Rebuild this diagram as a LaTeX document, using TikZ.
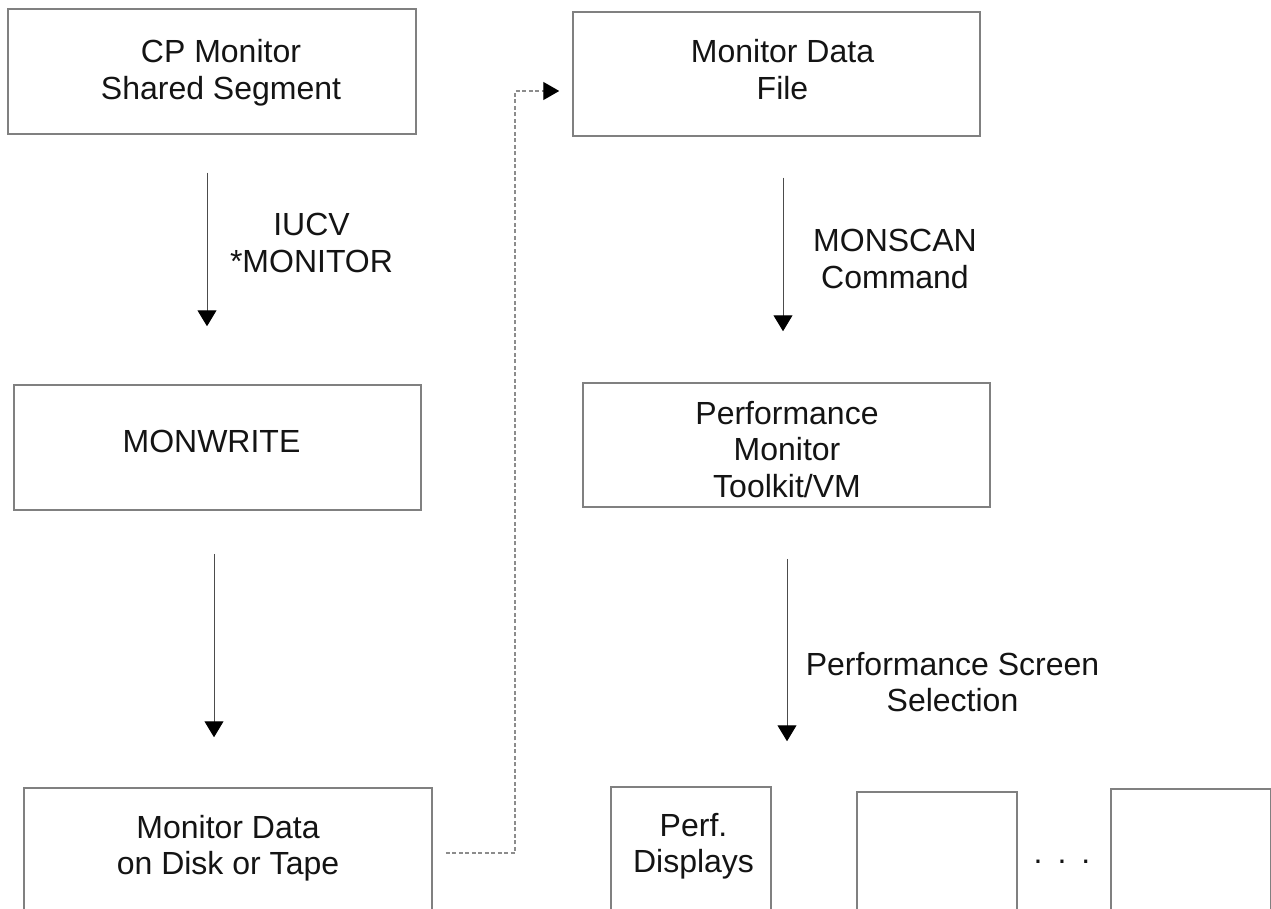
\documentclass[tikz,border=0pt]{standalone}
\usepackage{fontspec}
\setmainfont{Liberation Sans}
\usetikzlibrary{arrows.meta}
\newcommand{\mlines}[1]{\begin{tabular}[t]{@{}c@{}}#1\end{tabular}}
\begin{document}
\begin{tikzpicture}[x=1pt,y=-1pt,
  box/.style={draw=black!50, line width=1.5pt, rectangle, inner sep=0pt},
  txt/.style={font=\fontsize{32}{36.5}\selectfont, inner sep=0pt, anchor=base, text=black!92},
  flow/.style={draw=black!70, line width=1pt, -{Triangle[length=16pt,width=19pt,color=black]}},
  link/.style={draw=black!45, line width=1.2pt, dash pattern=on 4pt off 2.5pt, -{Triangle[length=16pt,width=18pt,color=black]}}]
\useasboundingbox (0,0) rectangle (1271,909);
\fill[white] (0,0) rectangle (1271,909);

% boxes
\node[box, minimum width=408pt, minimum height=125pt] (cpbox) at (212,71.5) {};
\node[box, minimum width=407pt, minimum height=125pt] (mwbox) at (217.5,447.5) {};
\node[box, minimum width=408pt, minimum height=152pt] (diskbox) at (228,864) {};
\node[box, minimum width=407pt, minimum height=124pt] (mdfbox) at (776.5,74) {};
\node[box, minimum width=407pt, minimum height=124pt] (pmtbox) at (786.5,445) {};
\node[box, minimum width=160pt, minimum height=153pt] (perfbox) at (691,863.5) {};
\node[box, minimum width=160pt, minimum height=148pt] (dispbox) at (937,866) {};
\node[box, minimum width=159.5pt, minimum height=151pt] (lastbox) at (1190.75,864.5) {};

% box texts
\node[txt] (cptxt) at (221,63) {\mlines{CP Monitor\\Shared Segment}};
\node[txt] (mwtxt) at (211.5,452) {MONWRITE};
\node[txt] (disktxt) at (228,838) {\mlines{Monitor Data\\on Disk or Tape}};
\node[txt] (mdftxt) at (782.5,63) {\mlines{Monitor Data\\File}};
\node[txt] (pmttxt) at (787,424) {\mlines{Performance\\Monitor\\Toolkit/VM}};
\node[txt] (perftxt) at (693.5,836) {\mlines{Perf.\\Displays}};
\node[txt] (dots) at (1062,863) {.\hspace{15pt}.\hspace{15pt}.};

% connector labels
\node[txt] (iucv) at (311.5,236) {\mlines{IUCV\\{}*MONITOR}};
\node[txt] (monscan) at (895,252) {\mlines{MONSCAN\\Command}};
\node[txt] (pss) at (952.5,675) {\mlines{Performance Screen\\Selection}};

% connectors
\draw[flow] ([shift={(-5,38)}]cpbox.south) -- ([shift={(-10.5,-58)}]mwbox.north);
\draw[flow] ([shift={(-3.5,43)}]mwbox.south) -- ([shift={(-14,-50)}]diskbox.north);
\draw[flow] ([shift={(6.5,41)}]mdfbox.south) -- ([shift={(-3.5,-51)}]pmtbox.north);
\draw[flow] ([shift={(0.5,51)}]pmtbox.south) -- ([shift={(96,-45)}]perfbox.north);

\coordinate (ds) at ([shift={(13,-11)}]diskbox.east);
\coordinate (de) at ([shift={(-13,17)}]mdfbox.west);
\draw[link] (ds) -| (515,91) -- (de);
\end{tikzpicture}
\end{document}
